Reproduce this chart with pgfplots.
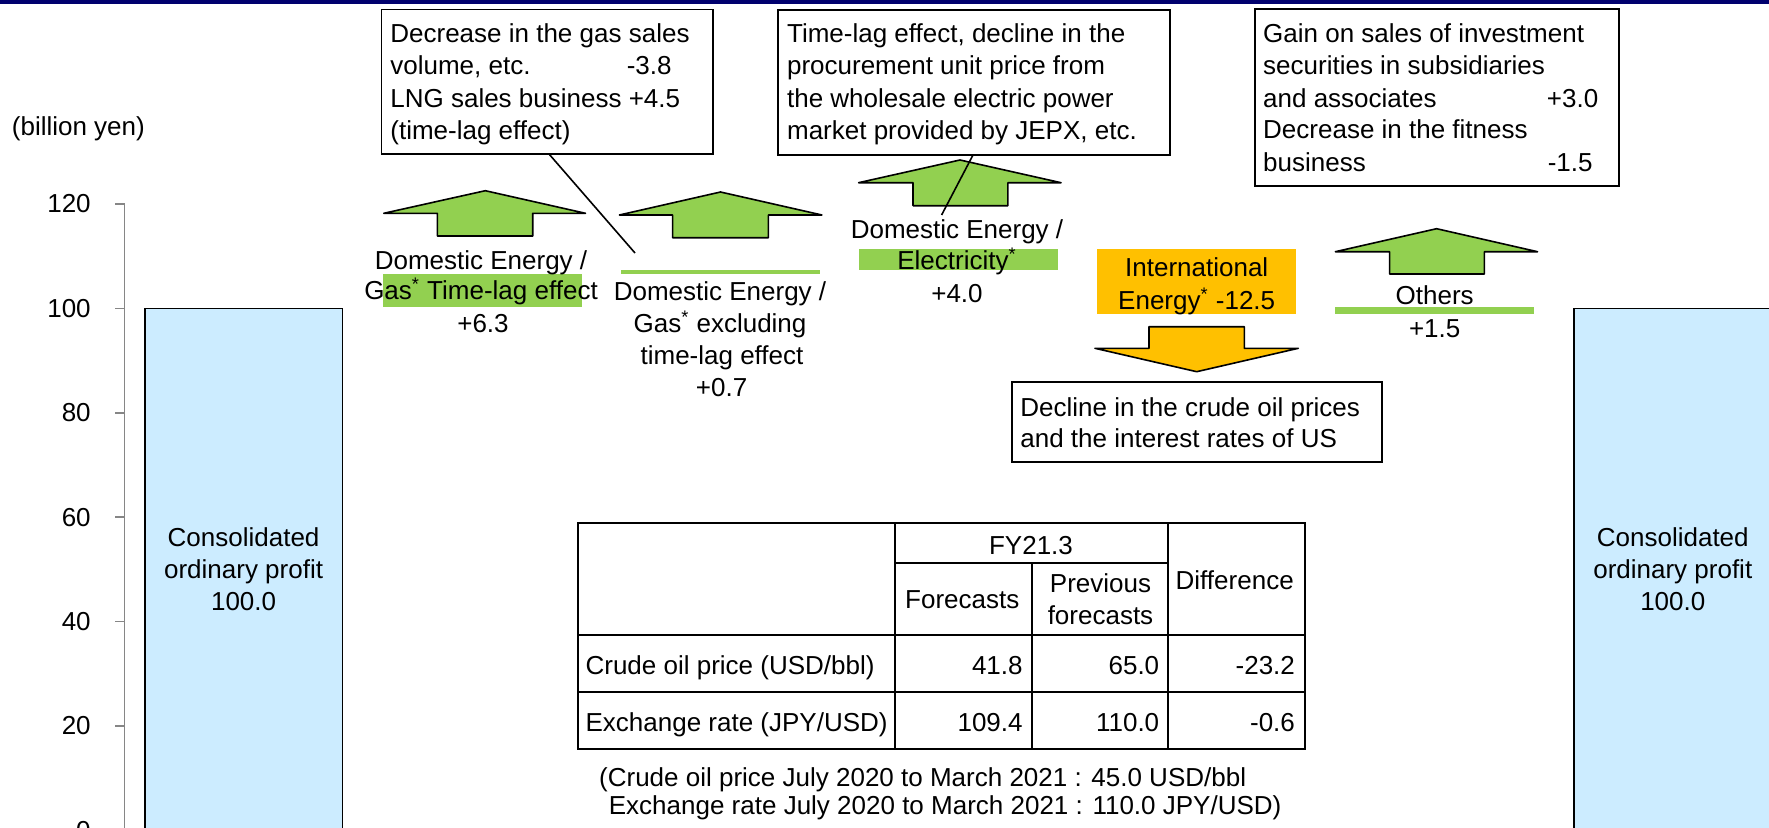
\documentclass[border=0pt]{standalone}
\usepackage{pgfplots}
\pgfplotsset{compat=1.18}
\usepackage{fontspec}
\setmainfont{Liberation Sans}
\definecolor{navy}{RGB}{0,0,110}
\definecolor{barblue}{RGB}{204,236,255}
\definecolor{grn}{RGB}{146,208,80}
\definecolor{org}{RGB}{255,192,0}
\definecolor{axgray}{RGB}{134,134,134}
\newcommand{\TL}[3]{\node[anchor=base west,inner sep=0pt] at (#1,#2) {#3};}
\newcommand{\TC}[3]{\node[anchor=base,inner sep=0pt] at (#1,#2) {#3};}
\newcommand{\TR}[3]{\node[anchor=base east,inner sep=0pt] at (#1,#2) {#3};}
\newcommand{\sas}{\textsuperscript{*}}
\begin{document}
\fontsize{13}{16.15}\selectfont
\begin{tikzpicture}[font=\fontsize{13}{16.15}\selectfont]
\begin{axis}[
  at={(62.25pt,-1.7pt)}, anchor=south west,
  scale only axis, width=833.7pt, height=313.2pt,
  xmin=-0.5, xmax=6.5, ymin=0, ymax=120,
  axis lines*=left,
  x axis line style={draw=none},
  y axis line style={draw=axgray, line width=0.8pt},
  ytick={0,20,...,120}, xtick=\empty,
  tick align=outside, major tick length=4.5pt,
  ytick style={draw=axgray, line width=0.8pt},
  yticklabel style={inner sep=0pt, anchor=east, xshift=-12.2pt, font=\fontsize{13}{16}\selectfont},
  /pgf/number format/assume math mode=true,
  clip=false,
]
\addplot[ybar, bar width=0.829, fill=barblue, draw=black, line width=0.8pt] coordinates {(0,100) (6,100)};
\node[align=center] at (axis cs:0,50) {Consolidated\\ordinary profit\\100.0};
\node[align=center] at (axis cs:6,50) {Consolidated\\ordinary profit\\100.0};
\end{axis}
\begin{scope}[x=0.5pt, y=-0.5pt, shift={(0pt,413.5pt)}]
\fill[navy] (0,0) rectangle (1769,4.5);
\TL{11.5}{136}{(billion yen)}
% box 1
\draw[line width=0.8pt] (381.5,9.5) rectangle (713,154);
\TL{390}{42.5}{Decrease in the gas sales}
\TL{390}{75}{volume, etc.}
\TR{672}{75}{-3.8}
\TL{390}{107.5}{LNG sales business +4.5}
\TL{390}{139.5}{(time-lag effect)}
% box 2
\draw[line width=0.8pt] (778.2,10) rectangle (1169.7,155);
\TL{786.7}{42.5}{Time-lag effect, decline in the}
\TL{786.7}{75}{procurement unit price from}
\TL{786.7}{107.5}{the wholesale electric power}
\TL{786.7}{139.5}{market provided by JEPX, etc.}
% box 3
\draw[line width=0.8pt] (1254.8,9) rectangle (1618.8,185.7);
\TL{1262.8}{42.8}{Gain on sales of investment}
\TL{1262.8}{74.5}{securities in subsidiaries}
\TL{1262.8}{107.2}{and associates}
\TR{1598.6}{107.2}{+3.0}
\TL{1262.8}{138.8}{Decrease in the fitness}
\TL{1262.8}{171.2}{business}
\TR{1593}{171.2}{-1.5}
% box 4
\draw[line width=0.8pt] (1011.7,381.7) rectangle (1381.7,461.7);
\TL{1020}{416.2}{Decline in the crude oil prices}
\TL{1020}{447.8}{and the interest rates of US}
% highlight rectangles
\fill[grn] (383,274) rectangle (582,306.7);
\fill[grn] (621,270) rectangle (820,274);
\fill[grn] (858.6,249) rectangle (1057.6,270);
\fill[org] (1096.7,249) rectangle (1296,314.3);
\fill[grn] (1335,307.3) rectangle (1534,314.3);
% arrows
\filldraw[fill=grn, draw=black, line width=0.8pt, line join=round] (485.3,190.7) -- (585.5,213.3) -- (532.7,213.3) -- (532.7,236) -- (437.4,236) -- (437.4,213.3) -- (383.8,213.3) -- cycle;
\filldraw[fill=grn, draw=black, line width=0.8pt, line join=round] (720.5,192) -- (821.9,215) -- (768.3,215) -- (768.3,237.7) -- (672.6,237.7) -- (672.6,215) -- (619.4,215) -- cycle;
\filldraw[fill=grn, draw=black, line width=0.8pt, line join=round] (960,160) -- (1061,182.7) -- (1007.9,182.7) -- (1007.9,205.7) -- (913,205.7) -- (913,182.7) -- (858.6,182.7) -- cycle;
\filldraw[fill=grn, draw=black, line width=0.8pt, line join=round] (1436.6,228.7) -- (1537.5,251.7) -- (1484.4,251.7) -- (1484.4,274) -- (1389.6,274) -- (1389.6,251.7) -- (1335.4,251.7) -- cycle;
\filldraw[fill=org, draw=black, line width=0.8pt, line join=round] (1196.7,371.7) -- (1298.3,348.3) -- (1244.3,348.3) -- (1244.3,326.7) -- (1149,326.7) -- (1149,348.3) -- (1095,348.3) -- cycle;
% labels
\TC{481}{269}{Domestic Energy /}
\TC{481}{299.5}{Gas\sas{} Time-lag effect}
\TC{483}{332}{+6.3}
\TC{720}{300.7}{Domestic Energy /}
\TC{720}{332}{Gas\sas{} excluding}
\TC{722}{364}{time-lag effect}
\TC{721.6}{396.7}{+0.7}
\TC{957}{238.3}{Domestic Energy /}
\TC{957}{269}{Electricity\sas}
\TC{957}{302.3}{+4.0}
\TC{1196.7}{276.3}{International}
\TC{1196.7}{309}{Energy\sas{} -12.5}
\TC{1434.7}{304.7}{Others}
\TC{1434.7}{337.3}{+1.5}
% callout lines
\draw[line width=0.8pt] (549,154) -- (635,253);
\draw[line width=0.8pt] (973,155) -- (941.6,215);
% table
\begin{scope}[line width=1pt]
\draw (578,523.3) rectangle (1305,749.3);
\draw (895.4,562.7) -- (1167.9,562.7);
\draw (578,635) -- (1305,635);
\draw (578,692.3) -- (1305,692.3);
\draw (895.4,523.3) -- (895.4,749.3);
\draw (1031.6,562.7) -- (1031.6,749.3);
\draw (1167.9,523.3) -- (1167.9,749.3);
\end{scope}
\TC{1031}{554.5}{FY21.3}
\TC{962.3}{608.8}{Forecasts}
\TC{1100.5}{592.8}{Previous}
\TC{1100.5}{624.5}{forecasts}
\TC{1234.7}{589.5}{Difference}
\TL{585.2}{674.5}{Crude oil price (USD/bbl)}
\TR{1023}{674.5}{41.8}
\TR{1159.6}{674.5}{65.0}
\TR{1295.3}{674.5}{-23.2}
\TL{585.2}{731.2}{Exchange rate (JPY/USD)}
\TR{1023}{731.2}{109.4}
\TR{1159.6}{731.2}{110.0}
\TR{1295.3}{731.2}{-0.6}
\TL{598.8}{786.2}{(Crude oil price July 2020 to March 2021 : 45.0 USD/bbl}
\TL{608.5}{814.5}{Exchange rate July 2020 to March 2021 : 110.0 JPY/USD)}
\end{scope}
\pgfresetboundingbox
\path (0,0) rectangle (884.5pt,413.5pt);
\end{tikzpicture}
\end{document}
